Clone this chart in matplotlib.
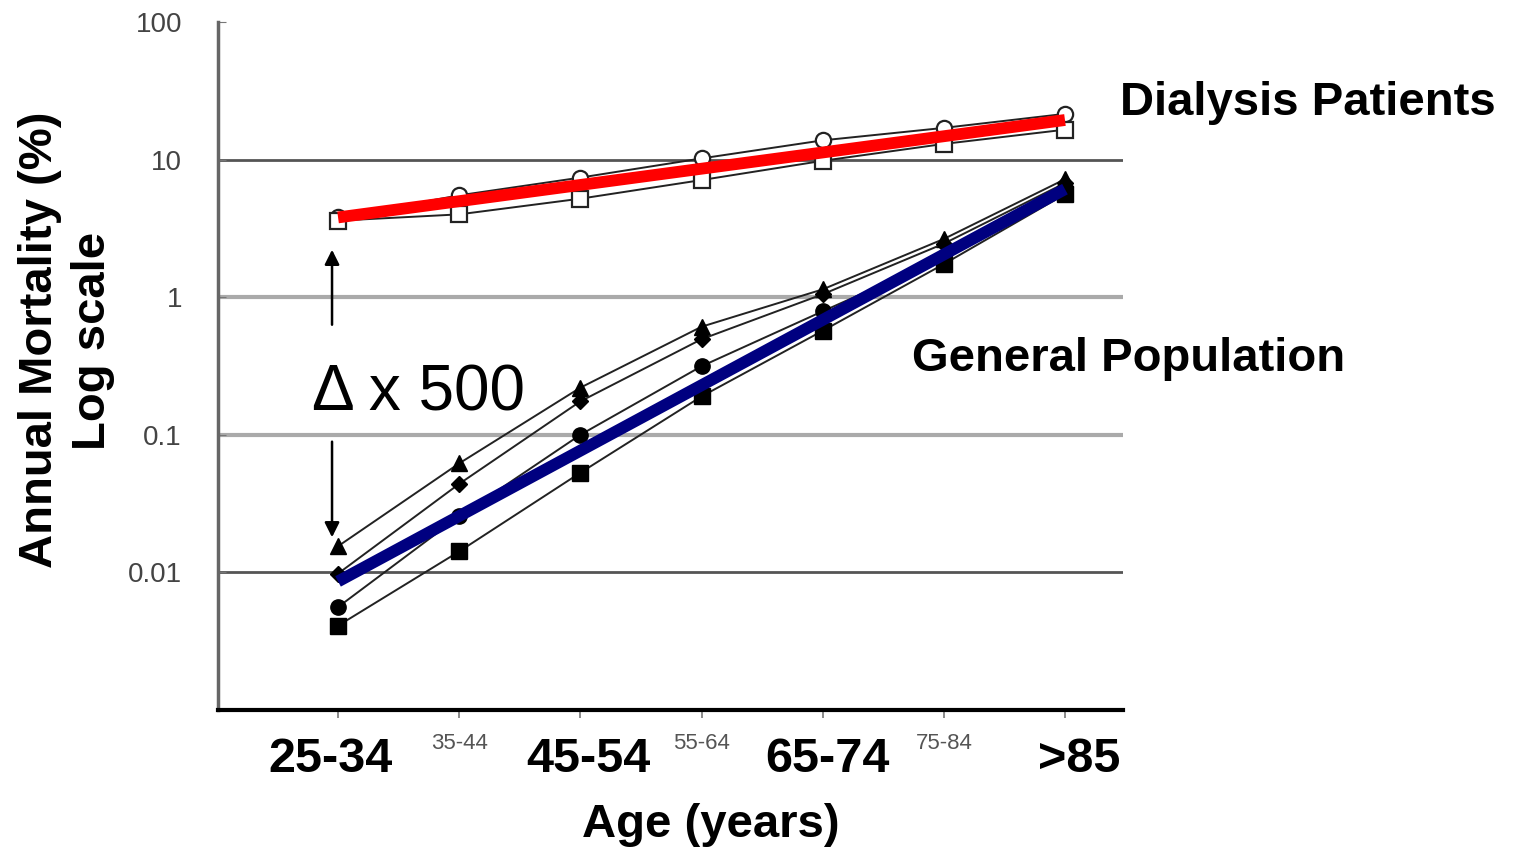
import matplotlib
matplotlib.use('Agg')
import matplotlib.pyplot as plt
import matplotlib.transforms as mtransforms

plt.rcParams['font.family'] = ['Liberation Sans', 'DejaVu Sans']

ages = ['25-34', '35-44', '45-54', '55-64', '65-74', '75-84', '>85']
x = list(range(len(ages)))

# dialysis patients, two cohorts (open markers)
dial_a = [3.8, 5.5, 7.4, 10.2, 13.8, 17.0, 21.5]
dial_b = [3.6, 4.0, 5.2, 7.1, 9.8, 13.0, 16.5]
# general population, four cohorts (filled markers)
gen_tri = [0.0155, 0.062, 0.22, 0.61, 1.14, 2.65, 7.2]
gen_dia = [0.0098, 0.044, 0.175, 0.495, 1.05, 2.45, 6.75]
gen_cir = [0.0056, 0.0255, 0.10, 0.315, 0.79, 1.95, 6.1]
gen_sq = [0.0041, 0.0142, 0.053, 0.19, 0.57, 1.74, 5.6]
# trend lines over the full age range
fit_x = [0, 6]
dial_fit = [3.8, 19.4]
gen_fit = [0.0086, 6.1]

yticks = [0.01, 0.1, 1, 10, 100]
ytick_labels = ['0.01', '0.1', '1', '10', '100']
grid_colors = ['#555555', '#aaaaaa', '#aaaaaa', '#555555', 'none']
grid_widths = [2.0, 3.0, 3.0, 2.0, 0]

fig = plt.figure(figsize=(15.15, 8.47), dpi=100)
ax = fig.add_axes([218 / 1515, 1 - 710 / 847, (1123 - 218) / 1515, (710 - 22) / 847])
ax.set_yscale('log')
ax.set_ylim(0.001, 100)
ax.set_xlim(-0.991, 6.479)

line_kw = dict(color='#222222', lw=1.4, markersize=11)
ax.plot(x, dial_a, marker='o', mfc='white', mec='#222222', mew=1.6, **line_kw)
ax.plot(x, dial_b, marker='s', mfc='white', mec='#222222', mew=1.6, **line_kw)
ax.plot(x, gen_tri, marker='^', mfc='black', mec='black', **line_kw)
ax.plot(x, gen_dia, marker='D', mfc='black', mec='black', ms=8, color='#222222', lw=1.4)
ax.plot(x, gen_cir, marker='o', mfc='black', mec='black', **line_kw)
ax.plot(x, gen_sq, marker='s', mfc='black', mec='black', **line_kw)

ax.plot(fit_x, dial_fit, color='#ff0000', lw=8.5, solid_capstyle='butt', zorder=5)
ax.plot(fit_x, gen_fit, color='#000080', lw=8.5, solid_capstyle='butt', zorder=5)

# axes styling
ax.set_yticks(yticks)
ax.set_yticklabels(ytick_labels)
ax.yaxis.set_minor_locator(matplotlib.ticker.NullLocator())
ax.tick_params(axis='y', length=6, direction='in', color='#777777', pad=26,
               labelsize=20, labelcolor='#444444')
ax.yaxis.grid(True)
for gl, c, w in zip(ax.get_ygridlines(), grid_colors, grid_widths):
    gl.set_color(c)
    gl.set_linewidth(w)
ax.set_axisbelow(True)

ax.set_xticks(x)
ax.set_xticklabels([])
ax.tick_params(axis='x', length=6, direction='out', color='#777777', width=1.2)

for side in ['top', 'right']:
    ax.spines[side].set_visible(False)
ax.spines['left'].set_color('#666666')
ax.spines['left'].set_linewidth(2.5)
ax.spines['bottom'].set_color('black')
ax.spines['bottom'].set_linewidth(3)

# age labels: decades in big bold, intermediate ones small and grey
label_shift = [-0.06, 0, 0.07, 0, 0.04, 0, 0.12]
trans = mtransforms.blended_transform_factory(ax.transData, ax.transAxes)
for i, lab in enumerate(ages):
    if i % 2 == 0:
        ax.text(i + label_shift[i], -0.090, lab, transform=trans, ha='center',
                va='baseline', fontsize=35, fontweight='bold', color='black')
    else:
        ax.text(i, -0.057, lab, transform=trans, ha='center', va='baseline',
                fontsize=16, color='#555555')

# delta annotation
arrow_kw = dict(arrowstyle='-|>', mutation_scale=22, lw=1.8, color='black',
                shrinkA=0, shrinkB=0)
ax.annotate('', xy=(0.126, 0.669), xytext=(0.126, 0.560),
            xycoords='axes fraction', arrowprops=arrow_kw)
ax.annotate('', xy=(0.126, 0.251), xytext=(0.126, 0.390),
            xycoords='axes fraction', arrowprops=arrow_kw)
ax.text(0.104, 0.436, '\u0394 x 500', transform=ax.transAxes, ha='left',
        va='baseline', fontsize=46)

# outside labels
fig.text(1120 / 1515, 1 - 115 / 847, 'Dialysis Patients', ha='left',
         va='baseline', fontsize=34, fontweight='bold')
fig.text(912 / 1515, 1 - 371 / 847, 'General Population', ha='left',
         va='baseline', fontsize=34, fontweight='bold')
fig.text(711 / 1515, 1 - 837 / 847, 'Age (years)', ha='center',
         va='baseline', fontsize=34, fontweight='bold')
fig.text(40 / 1515, 1 - 340 / 847, 'Annual Mortality (%)', rotation=90,
         ha='center', va='center', fontsize=34, fontweight='bold')
fig.text(93 / 1515, 1 - 341 / 847, 'Log scale', rotation=90,
         ha='center', va='center', fontsize=34, fontweight='bold')

fig.savefig('out.png', dpi=100)
